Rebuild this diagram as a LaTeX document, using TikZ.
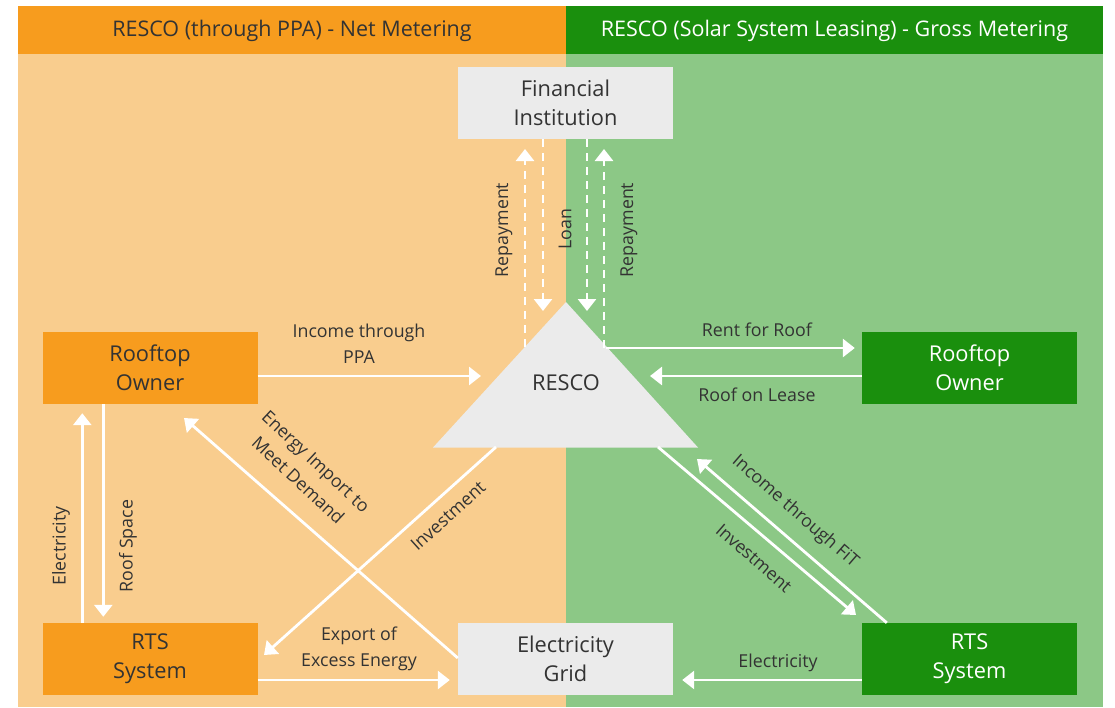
\documentclass[tikz,border=0pt]{standalone}
\usepackage{fontspec}
\setmainfont{Open Sans}
\usetikzlibrary{arrows.meta,calc}
\definecolor{orD}{HTML}{F79C1E}
\definecolor{orL}{HTML}{F9CD8E}
\definecolor{grD}{HTML}{1A8F0D}
\definecolor{grL}{HTML}{8CC886}
\definecolor{boxG}{HTML}{EBEBEB}
\definecolor{txt}{HTML}{333333}
\begin{document}
\begin{tikzpicture}[x=1pt,y=-1pt,
  box/.style={minimum width=215pt,minimum height=72pt,inner sep=0pt,align=center,font=\fontsize{21.8}{29}\selectfont},
  orbox/.style={box,fill=orD,text=txt},
  grbox/.style={box,fill=grD,text=white},
  gybox/.style={box,fill=boxG,text=txt},
  flow/.style={draw=white,line width=2.8pt,-{Triangle[width=18pt,length=12pt]}},
  dflow/.style={flow,dash pattern=on 8pt off 6pt},
  lbl/.style={text=txt,font=\fontsize{17.8}{26}\selectfont,align=center,inner sep=0pt},
  banner/.style={font=\fontsize{21.5}{24}\selectfont,inner sep=0pt}]
\useasboundingbox (0,0) rectangle (1115,707);
% backgrounds
\fill[orL] (18,6) rectangle (566,707);
\fill[grL] (566,6) rectangle (1103,707);
\fill[orD] (18,6) rectangle (566,54);
\fill[grD] (566,6) rectangle (1103,54);
\node[banner,text=txt] (bl) at (292,31) {RESCO (through PPA) - Net Metering};
\node[banner,text=white] (br) at (834.5,31) {RESCO (Solar System Leasing) - Gross Metering};
% boxes
\node[gybox] (fi) at (565.5,103) {Financial\\Institution};
\node[orbox] (ro1) at (150,368) {Rooftop\\Owner};
\node[orbox] (rts1) at (150,659) {RTS\\System};
\node[gybox] (grid) at (565.5,659) {Electricity\\Grid};
\node[grbox] (ro2) at (969.5,368) {Rooftop\\Owner};
\node[grbox] (rts2) at (969.5,659) {RTS\\System};
% RESCO triangle
\fill[boxG] (566,302) -- (433,447.5) -- (698,447.5) -- cycle;
\node[text=txt,font=\fontsize{21.8}{24}\selectfont,inner sep=0pt] (resco) at (566,383) {RESCO};
\coordinate (tRepL) at (525,347);
\coordinate (tLoanL) at (543,311);
\coordinate (tLoanR) at (587,311);
\coordinate (tRepR) at (604,348);
\coordinate (tRent) at (606,348);
\coordinate (tLease) at (650,376);
\coordinate (tPPA) at (481,376);
\coordinate (tInvL) at (496,447);
\coordinate (tInvR) at (658,447);
\coordinate (tFiT) at (697,459);
% finance flows
\draw[dflow] (tRepL) -- (tRepL |- 0,149);
\draw[dflow] (tLoanL |- fi.south) -- (tLoanL);
\draw[dflow] (tLoanR |- fi.south) -- (tLoanR);
\draw[dflow] (tRepR) -- (tRepR |- 0,149);
\node[lbl,rotate=90] (lRepL) at (504,230) {Repayment};
\node[lbl,rotate=90] (lLoan) at (565,229) {Loan};
\node[lbl,rotate=90] (lRepR) at (629,230) {Repayment};
% left side
\draw[flow] ($(ro1.east)+(0,8)$) -- (tPPA);
\node[lbl] (lPPA) at (359,344) {Income through\\PPA};
\draw[flow] ($(rts1.north west)+(40,0)$) -- ($(ro1.south west)+(40,9)$);
\node[lbl,rotate=90] (lElL) at (61,546) {Electricity};
\draw[flow] ($(ro1.south west)+(61,0)$) -- ($(rts1.north west)+(61,-6)$);
\node[lbl,rotate=90] (lRoof) at (128,546) {Roof Space};
\coordinate (gImp) at ($(grid.west)+(0,-1)$);
\draw[flow] (gImp) -- (184,418);
\node[lbl,rotate=-43] (lImp) at (307,471) {Energy Import to\\Meet Demand};
\draw[flow] (tInvL) -- (264,655);
\node[lbl,rotate=42] (lInvL) at (448,516) {Investment};
\draw[flow] ($(rts1.east)+(0,21)$) -- ($(grid.west)+(-8,21)$);
\node[lbl] (lExp) at (359,649) {Export of\\Excess Energy};
% right side
\draw[flow] (tRent) -- ($(ro2.west)+(-7,-20)$);
\node[lbl] (lRent) at (757,330) {Rent for Roof};
\draw[flow] ($(ro2.west)+(0,8)$) -- (tLease);
\node[lbl] (lLease) at (757,395) {Roof on Lease};
\draw[flow] (tInvR) -- (856,615);
\node[lbl,rotate=-41] (lInvR) at (754,558) {Investment};
\draw[flow] ($(rts2.north west)+(25,0)$) -- (tFiT);
\node[lbl,rotate=-41] (lFiT) at (795,512) {Income through FiT};
\draw[flow] ($(rts2.west)+(0,21)$) -- ($(grid.east)+(9,21)$);
\node[lbl] (lElR) at (778,663) {Electricity};
\end{tikzpicture}
\end{document}
